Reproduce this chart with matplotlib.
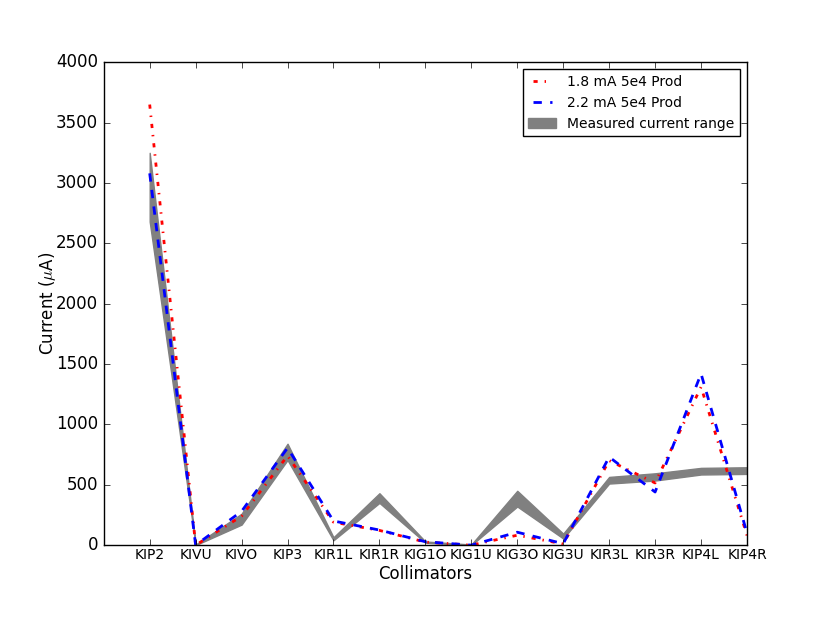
import numpy as np
import matplotlib
matplotlib.use("Agg")
import matplotlib.pyplot as plt

plt.style.use("classic")

collimators = ["KIP2", "KIVU", "KIVO", "KIP3", "KIR1L", "KIR1R", "KIG1O",
               "KIG1U", "KIG3O", "KIG3U", "KIR3L", "KIR3R", "KIP4L", "KIP4R"]

# measured current range (low / high), uA
meas_low = [2680, 0, 170, 705, 40, 350, 20, 0, 320, 55, 510, 535, 585, 590]
meas_high = [3250, 5, 260, 840, 65, 430, 30, 5, 450, 95, 565, 595, 640, 645]

# simulated currents
sim_18 = [3650, 0, 240, 740, 190, 122, 25, 0, 82, 10, 700, 515, 1310, 80]
sim_22 = [3080, 0, 280, 805, 200, 125, 28, 0, 107, 12, 730, 440, 1420, 100]

x = np.arange(1, len(collimators) + 1)

fig = plt.figure(figsize=(8.3, 6.23), dpi=100)
ax = fig.add_subplot(111)
fig.subplots_adjust(left=0.125, right=0.9, top=0.9, bottom=0.125)

ax.fill_between(x, meas_low, meas_high, color="gray", edgecolor="gray",
                linewidth=1, label="Measured current range")
ax.plot(x, sim_18, "r-.", linewidth=2, label="1.8 mA 5e4 Prod")
ax.plot(x, sim_22, "b--", linewidth=2, label="2.2 mA 5e4 Prod")

ax.set_xlim(0, 14)
ax.set_ylim(0, 4000)
ax.set_xticks(x)
ax.set_xticklabels(collimators, fontsize=10)
ax.tick_params(axis="x", pad=2)
ax.set_xlabel("Collimators", labelpad=2)
ax.set_ylabel(r"Current ($\mu$A)", labelpad=-1.5)

handles, labels = ax.get_legend_handles_labels()
order = [1, 2, 0]
ax.legend([handles[i] for i in order], [labels[i] for i in order],
          loc="upper right", fontsize=10)

fig.savefig("out.png", dpi=100)
